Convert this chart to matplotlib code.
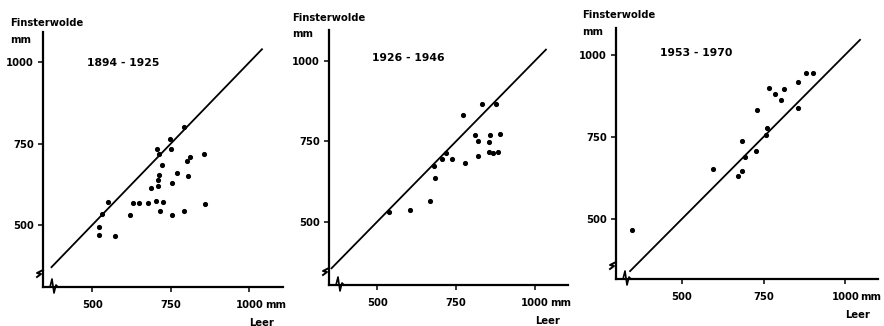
import matplotlib
matplotlib.use('Agg')
import matplotlib.pyplot as plt
import matplotlib.transforms as mtransforms

# annual precipitation, Leer (x) vs Finsterwolde (y), mm
periods = ['1894 - 1925', '1926 - 1946', '1953 - 1970']

leer_1 = [520, 521, 530, 549, 573, 620, 631, 650, 678, 686, 702, 707, 708, 709, 713, 713,
          714, 722, 725, 746, 751, 755, 754, 770, 792, 793, 800, 805, 812, 856, 858]
fins_1 = [495, 468, 533, 569, 465, 530, 566, 566, 566, 614, 573, 734, 638, 619, 652, 717,
          543, 683, 570, 764, 732, 628, 529, 661, 544, 800, 696, 651, 710, 719, 564]

leer_2 = [536, 605, 666, 684, 679, 705, 719, 736, 773, 779, 809, 818, 819, 832, 858, 856,
          853, 867, 883, 878, 889]
fins_2 = [529, 536, 564, 636, 674, 696, 713, 696, 833, 681, 769, 751, 703, 866, 771, 747,
          718, 713, 716, 866, 773]

leer_3 = [347, 596, 672, 685, 683, 692, 726, 729, 758, 761, 767, 786, 803, 814, 854, 855,
          880, 901]
fins_3 = [466, 651, 631, 646, 739, 690, 708, 831, 756, 778, 898, 881, 863, 895, 917, 837,
          945, 944]

# equal-precipitation line (start, end) for each panel
line_1 = [370, 1040]
line_2 = [355, 1035]
line_3 = [342, 1045]

xticks = [500, 750, 1000]
yticks = [500, 750, 1000]

W, H = 884, 326
fig = plt.figure(figsize=(W / 100, H / 100), dpi=100)
fig.patch.set_facecolor('white')

FONT = dict(family='DejaVu Sans', weight='bold', size=7.2)

# axes boxes in pixels: left, bottom-y (from top), right, top-y
boxes = [(43, 287, 283, 32), (329, 285, 568, 30), (616, 279, 878, 28)]
xlims = [(343, 1107), (347, 1105), (299, 1100)]
ylims = [(309, 1093), (303, 1096), (318, 1081)]
# text anchors in pixels: Finsterwolde/mm x, Finsterwolde y, mm y, period (x, y)
heads = [(10, 23, 40, (87, 63)), (292, 18, 34, (372, 58)), (582, 15, 32, (660, 53))]

data = [(leer_1, fins_1, line_1), (leer_2, fins_2, line_2), (leer_3, fins_3, line_3)]

for i, (lx, fy, ln) in enumerate(data):
    l, b, r, t = boxes[i]
    ax = fig.add_axes([l / W, 1 - b / H, (r - l) / W, (b - t) / H])
    ax.set_xlim(*xlims[i])
    ax.set_ylim(*ylims[i])
    for s in ['top', 'right']:
        ax.spines[s].set_visible(False)
    for s in ['left', 'bottom']:
        ax.spines[s].set_linewidth(1.6)
        ax.spines[s].set_color('black')
    ax.set_xticks(xticks)
    ax.set_xticklabels(['500', '750', '1000'], fontdict=FONT)
    ax.set_yticks(yticks)
    ax.set_yticklabels(['500', '750', '1000'], fontdict=FONT)
    ax.tick_params(axis='both', direction='out', length=3.5, width=1.1, pad=3, colors='black')
    ax.tick_params(axis='x', pad=6)

    ax.plot(ln, ln, color='black', lw=1.3)
    ax.plot(lx, fy, 'o', color='black', ms=2.7, mec='black')

    ax.annotate('mm', xy=(1000, 0), xycoords=('data', 'axes fraction'),
                xytext=(11, -9.5), textcoords='offset points', ha='left', va='top', **FONT)
    ax.annotate('Leer', xy=(1000, 0), xycoords=('data', 'axes fraction'),
                xytext=(0, -22), textcoords='offset points', ha='left', va='top', **FONT)

    hx, fy_pix, my_pix, (px, py) = heads[i]
    fig.text(hx / W, 1 - fy_pix / H, 'Finsterwolde', ha='left', va='center', **FONT)
    fig.text(hx / W, 1 - my_pix / H, 'mm', ha='left', va='center', **FONT)
    fig.text(px / W, 1 - py / H, periods[i], ha='left', va='center',
             family='DejaVu Sans', weight='bold', size=7.8)

    # axis break marks near the origin, drawn in pixel offsets from the axes corner
    tr = mtransforms.Affine2D().scale(1 / 100) + fig.dpi_scale_trans + \
        mtransforms.ScaledTranslation(0, 0, ax.transAxes)
    ax.plot([0, -6, -2, -6], [17, 14, 13, 10], color='black', lw=1.4,
            transform=tr, clip_on=False)
    ax.plot([7, 9, 11, 13, 15], [0, 8, -6, 2, 0], color='black', lw=1.2,
            transform=tr, clip_on=False)

fig.savefig('out.png', dpi=100, facecolor='white')
